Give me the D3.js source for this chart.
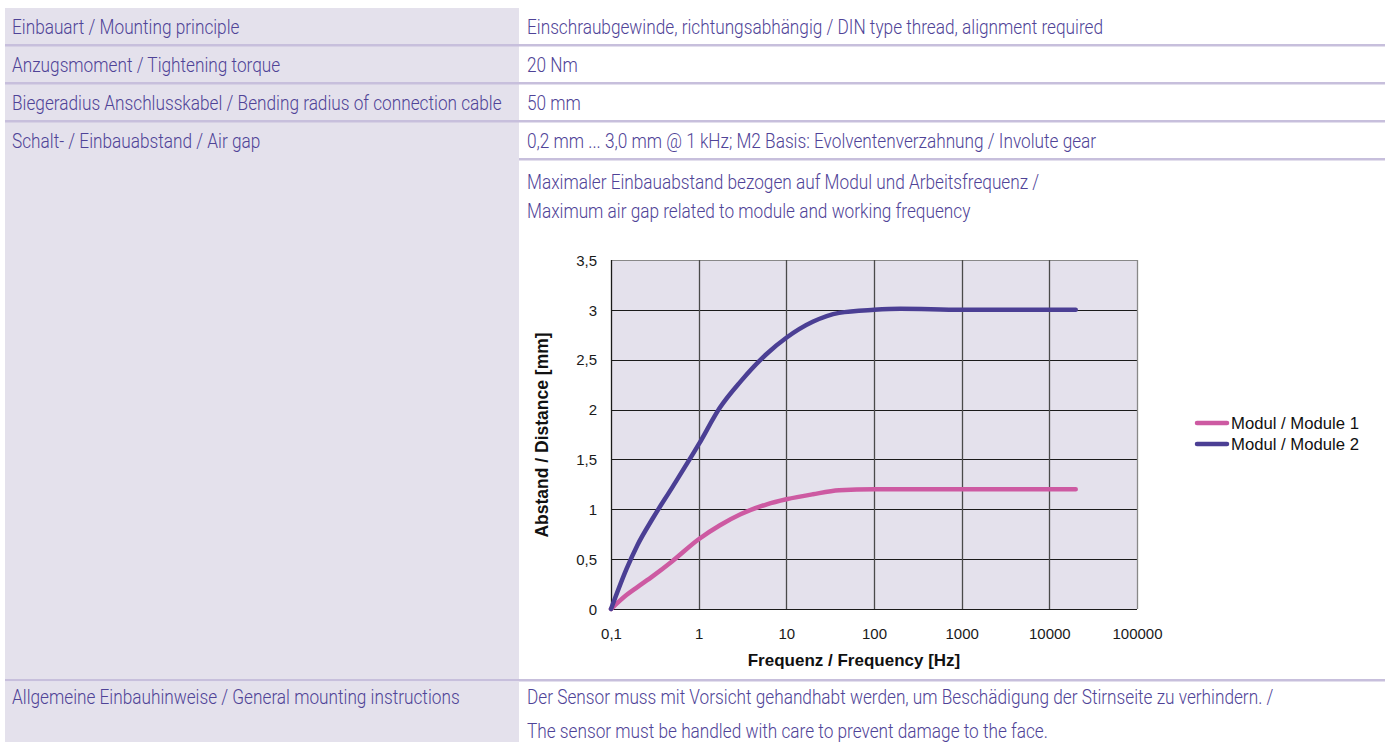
<!DOCTYPE html>
<html><head><meta charset="utf-8">
<script src="https://cdn.jsdelivr.net/npm/d3@7"></script>
<style>
html,body{margin:0;padding:0;background:#fff;}
svg{display:block;}
</style></head>
<body>
<svg id="c" width="1385" height="742"></svg>
<script>
// ---------- data ----------
const leftLabels = [
  "Einbauart / Mounting principle",
  "Anzugsmoment / Tightening torque",
  "Biegeradius Anschlusskabel / Bending radius of connection cable",
  "Schalt- / Einbauabstand / Air gap",
  "Allgemeine Einbauhinweise / General mounting instructions"
];
const rightLabels = [
  "Einschraubgewinde, richtungsabhängig / DIN type thread, alignment required",
  "20 Nm",
  "50 mm",
  "0,2 mm ... 3,0 mm @ 1 kHz; M2 Basis: Evolventenverzahnung / Involute gear",
  "Maximaler Einbauabstand bezogen auf Modul und Arbeitsfrequenz /",
  "Maximum air gap related to module and working frequency",
  "Der Sensor muss mit Vorsicht gehandhabt werden, um Beschädigung der Stirnseite zu verhindern. /",
  "The sensor must be handled with care to prevent damage to the face."
];
const freqs   = [0.1, 0.15, 0.2, 0.3, 0.5, 1, 1.75, 3, 6, 10, 20, 40, 100, 200, 1000, 10000, 20000];
const module1 = [0, 0.14, 0.22, 0.33, 0.48, 0.70, 0.84, 0.95, 1.05, 1.10, 1.15, 1.19, 1.2, 1.2, 1.2, 1.2, 1.2];
const module2 = [0, 0.40, 0.64, 0.91, 1.22, 1.65, 2.02, 2.28, 2.56, 2.72, 2.88, 2.97, 3.0, 3.01, 3.0, 3.0, 3.0];
const seriesNames = ["Modul / Module 1", "Modul / Module 2"];
const xTickValues = [0.1, 1, 10, 100, 1000, 10000, 100000];
const xTickLabels = ["0,1", "1", "10", "100", "1000", "10000", "100000"];
const yTickValues = [0, 0.5, 1, 1.5, 2, 2.5, 3, 3.5];
const yTickLabels = ["0", "0,5", "1", "1,5", "2", "2,5", "3", "3,5"];
const xTitle = "Frequenz / Frequency [Hz]";
const yTitle = "Abstand / Distance [mm]";

// ---------- styles ----------
const txtCol = "#4f4397", fillCol = "#e4e1ec", sepCol = "#c7bfdc";
const colors = ["#cd5aa2", "#4b3f94"];
const svg = d3.select("#c");

// table background
svg.append("rect").attr("x",5).attr("y",8).attr("width",514).attr("height",672).attr("fill",fillCol);
svg.append("rect").attr("x",5).attr("y",682).attr("width",514).attr("height",60).attr("fill",fillCol);
// separators
[45,83,121].forEach(y=>svg.append("rect").attr("x",5).attr("y",y-1).attr("width",1380).attr("height",2.5).attr("fill",sepCol));
svg.append("rect").attr("x",519).attr("y",158).attr("width",866).attr("height",2.5).attr("fill",sepCol);
svg.append("rect").attr("x",5).attr("y",679).attr("width",1380).attr("height",2.5).attr("fill",sepCol);

// table text
const tFont = "Roboto,'Liberation Sans',sans-serif";
const tSize = 20.5;
const tg = svg.append("g");
const leftPos = [34,72,110,148,704];
const rightPos = [34,72,110,148,189,218,704,738];
function addText(x,y,s){
  return tg.append("text").attr("x",0).attr("y",0).attr("font-family",tFont).attr("font-size",tSize)
    .attr("font-weight",300).attr("fill",txtCol).text(s).attr("data-x",x).attr("data-y",y);
}
const nodes = [];
leftLabels.forEach((s,i)=>nodes.push(addText(12,leftPos[i],s)));
rightLabels.forEach((s,i)=>nodes.push(addText(527,rightPos[i],s)));
const w0 = nodes[2].node().getComputedTextLength();
const sx = 490 / w0;
nodes.forEach(n=>n.attr("transform",`translate(${n.attr("data-x")},${n.attr("data-y")}) scale(${sx},1)`));

// ---------- chart ----------
const x = d3.scaleLog().domain([0.1,100000]).range([611,1137]);
const y = d3.scaleLinear().domain([0,3.5]).range([609,260]);
const cg = svg.append("g");
cg.append("rect").attr("x",611).attr("y",260).attr("width",526).attr("height",349).attr("fill",fillCol);
// horizontal grid
cg.selectAll(".hg").data(yTickValues).join("line")
  .attr("x1",611).attr("x2",1137).attr("y1",d=>Math.round(y(d))+0.5).attr("y2",d=>Math.round(y(d))+0.5)
  .attr("stroke",(d,i)=>i===yTickValues.length-1?"#888":"#1a1a1a").attr("stroke-width",1);
// vertical grid
cg.selectAll(".vg").data(xTickValues).join("line")
  .attr("y1",260).attr("y2",609).attr("x1",d=>Math.round(x(d))+0.5).attr("x2",d=>Math.round(x(d))+0.5)
  .attr("stroke",(d,i)=>i===0?"#1a1a1a":(i===xTickValues.length-1?"#888":"#4a4a4a")).attr("stroke-width",1.3);

// lines
const line = d3.line().x(d=>x(d[0])).y(d=>y(d[1])).curve(d3.curveMonotoneX);
[module1,module2].forEach((vals,i)=>{
  cg.append("path").attr("d",line(freqs.map((f,j)=>[f,vals[j]])))
    .attr("fill","none").attr("stroke",colors[i]).attr("stroke-width",4.5)
    .attr("stroke-linecap","round").attr("stroke-linejoin","round");
});

// axes
const cFont = "'Liberation Sans',Arial,sans-serif";
const xAxis = d3.axisBottom(x).tickValues(xTickValues).tickSize(0).tickPadding(0)
  .tickFormat((d,i)=>xTickLabels[i]);
const xa = cg.append("g").attr("transform","translate(0,609)").call(xAxis);
xa.select(".domain").remove();
xa.selectAll("text").attr("y",30).attr("dy",0).attr("font-family",cFont).attr("font-size",15).attr("fill","#1a1a1a");
const yAxis = d3.axisLeft(y).tickValues(yTickValues).tickSize(0).tickPadding(0)
  .tickFormat((d,i)=>yTickLabels[i]);
const ya = cg.append("g").attr("transform","translate(597,0)").call(yAxis);
ya.select(".domain").remove();
ya.selectAll("text").attr("x",0).attr("dy","0.35em").attr("font-family",cFont).attr("font-size",15).attr("fill","#1a1a1a");

cg.append("text").attr("x",854).attr("y",666).attr("text-anchor","middle")
  .attr("font-family",cFont).attr("font-size",17).attr("font-weight","bold").attr("fill","#111").text(xTitle);
cg.append("text").attr("transform","translate(548,435) rotate(-90)").attr("text-anchor","middle")
  .attr("font-family",cFont).attr("font-size",17.5).attr("font-weight","bold").attr("fill","#111").text(yTitle);

// legend
const lg = cg.append("g");
seriesNames.forEach((s,i)=>{
  const ly = 423 + i*21;
  lg.append("line").attr("x1",1197).attr("x2",1227).attr("y1",ly).attr("y2",ly)
    .attr("stroke",colors[i]).attr("stroke-width",4.5).attr("stroke-linecap","round");
  lg.append("text").attr("x",1231).attr("y",ly).attr("dy","0.35em").attr("font-family",cFont)
    .attr("font-size",16.7).attr("fill","#111").text(s);
});
</script>
</body></html>
